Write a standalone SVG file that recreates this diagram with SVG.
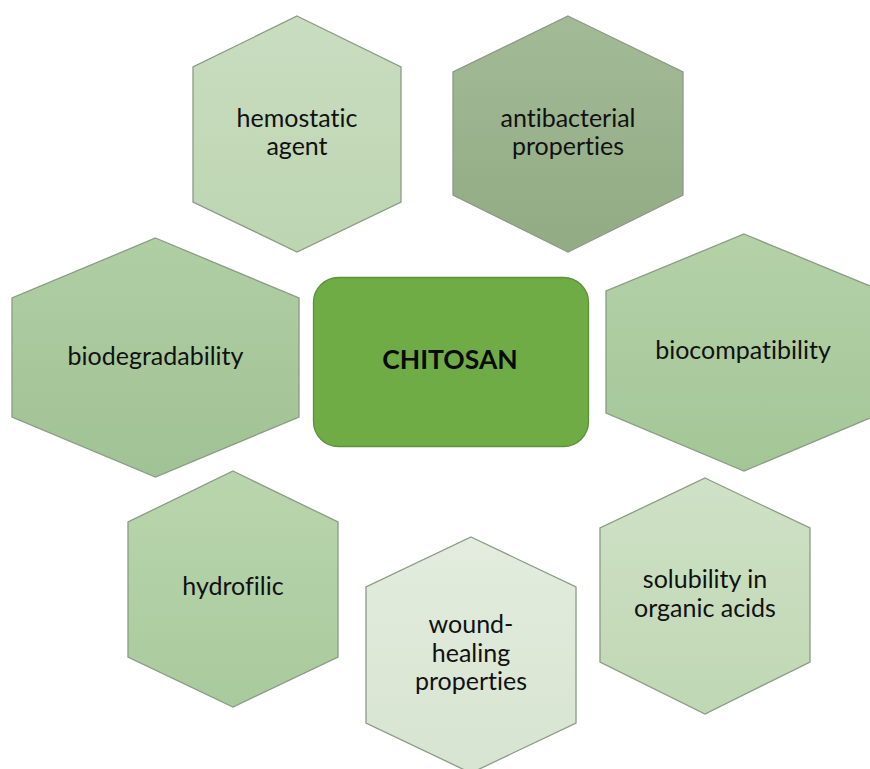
<svg xmlns="http://www.w3.org/2000/svg" width="870" height="769" viewBox="0 0 870 769">
  <style>
    .hex { stroke: #8b9b86; stroke-width: 1.3; stroke-linejoin: miter; }
    .lbl { font-family: Lato, "Open Sans", "Liberation Sans", sans-serif; font-size: 25px; fill: #111; text-anchor: middle; font-variant-ligatures: none; }
    .core { font-family: Lato, "Open Sans", "Liberation Sans", sans-serif; font-size: 26.5px; font-weight: bold; fill: #0a0a0a; text-anchor: middle; font-variant-ligatures: none; }
  </style>
  <defs>
    <linearGradient id="gHemo" x1="0" y1="0" x2="0" y2="1">
      <stop offset="0" stop-color="#c9ddc0"/><stop offset="1" stop-color="#bdd5b1"/>
    </linearGradient>
    <linearGradient id="gAnti" x1="0" y1="0" x2="0" y2="1">
      <stop offset="0" stop-color="#a3ba96"/><stop offset="1" stop-color="#92ab84"/>
    </linearGradient>
    <linearGradient id="gBiodeg" x1="0" y1="0" x2="0" y2="1">
      <stop offset="0" stop-color="#b0cea4"/><stop offset="1" stop-color="#a1c294"/>
    </linearGradient>
    <linearGradient id="gBiocomp" x1="0" y1="0" x2="0" y2="1">
      <stop offset="0" stop-color="#b4d1a8"/><stop offset="1" stop-color="#a4c696"/>
    </linearGradient>
    <linearGradient id="gHydro" x1="0" y1="0" x2="0" y2="1">
      <stop offset="0" stop-color="#b9d5ad"/><stop offset="1" stop-color="#a9ca9c"/>
    </linearGradient>
    <linearGradient id="gWound" x1="0" y1="0" x2="0" y2="1">
      <stop offset="0" stop-color="#e3ecde"/><stop offset="1" stop-color="#d7e4d1"/>
    </linearGradient>
    <linearGradient id="gSolub" x1="0" y1="0" x2="0" y2="1">
      <stop offset="0" stop-color="#cfe1c6"/><stop offset="1" stop-color="#bfd7b3"/>
    </linearGradient>
  </defs>

  <rect width="870" height="769" fill="#ffffff"/>

  <g id="node-hemostatic">
    <polygon class="hex" fill="url(#gHemo)" points="297,16 401,67 401,202 297,252 193,202 193,67"/>
    <text class="lbl" x="297" y="127">hemostatic</text>
    <text class="lbl" x="297" y="155">agent</text>
  </g>

  <g id="node-antibacterial">
    <polygon class="hex" fill="url(#gAnti)" points="568,16 683,72 683,195 568,252 453,195 453,72"/>
    <text class="lbl" x="568" y="127">antibacterial</text>
    <text class="lbl" x="568" y="155">properties</text>
  </g>

  <g id="node-biodegradability">
    <polygon class="hex" fill="url(#gBiodeg)" points="155.5,238 299,298 299,417 155.5,477 12,417 12,298"/>
    <text class="lbl" x="155.5" y="365">biodegradability</text>
  </g>

  <g id="node-chitosan">
    <rect x="313.5" y="277.5" width="275" height="169" rx="25" ry="25" fill="#70ac46" stroke="#5e9039" stroke-width="1.3"/>
    <text class="core" x="450" y="369">CHITOSAN</text>
  </g>

  <g id="node-biocompatibility">
    <polygon class="hex" fill="url(#gBiocomp)" points="744,234 882,291 882,413 744,471 606,413 606,291"/>
    <text class="lbl" x="743" y="359">biocompatibility</text>
  </g>

  <g id="node-hydrofilic">
    <polygon class="hex" fill="url(#gHydro)" points="233,471 338,522 338,657 233,707 128,657 128,522"/>
    <text class="lbl" x="233" y="595">hydrofilic</text>
  </g>

  <g id="node-wound-healing">
    <polygon class="hex" fill="url(#gWound)" points="471,537 576,587 576,723 471,773 366,723 366,587"/>
    <text class="lbl" x="471" y="633">wound-</text>
    <text class="lbl" x="471" y="662">healing</text>
    <text class="lbl" x="471" y="690">properties</text>
  </g>

  <g id="node-solubility">
    <polygon class="hex" fill="url(#gSolub)" points="705,478 810,528 810,662 705,714 600,662 600,528"/>
    <text class="lbl" x="705" y="588">solubility in</text>
    <text class="lbl" x="705" y="617">organic acids</text>
  </g>
</svg>
